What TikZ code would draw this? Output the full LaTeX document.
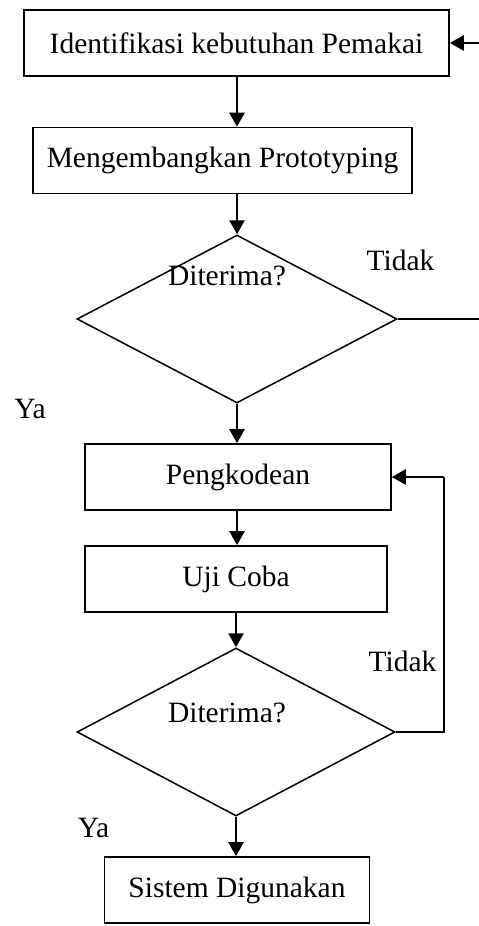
\documentclass[tikz,border=0pt]{standalone}
\usepackage{fontspec}
\setmainfont{Liberation Serif}
\usetikzlibrary{shapes.geometric,arrows.meta}

\begin{document}
\begin{tikzpicture}[ x=1pt, y=-1pt,
  box/.style={draw, line width=1.6pt, minimum height=66pt, inner sep=0pt},
  dec/.style={draw, diamond, line width=1.5pt, minimum width=320pt, minimum height=168pt, inner sep=0pt},
  arr/.style={line width=2.5pt, -{Triangle[length=14pt,width=15pt]}},
  font=\fontsize{29.5}{34}\selectfont ]

\useasboundingbox (0,0) rectangle (479,926);

%Steps
\node[box, minimum width=425pt] (B1) at (236.5,43)  {Identifikasi kebutuhan Pemakai};
\node[box, minimum width=379pt] (B2) at (222.5,160.5) {Mengembangkan Prototyping};
\node[dec] (D1) at (237,319) {};
\node[box, minimum width=306pt] (B3) at (238,477) {Pengkodean};
\node[box, minimum width=302pt] (B4) at (236,579) {Uji Coba};
\node[dec, minimum width=318pt] (D2) at (236,732) {};
\node[box, minimum width=265pt] (B5) at (237,890) {Sistem Digunakan};

% Labels
\node (T1) at (227,276) {Diterima?};
\node (T2) at (227,713) {Diterima?};
\node[anchor=base] (N1) at (400.5,270) {Tidak};
\node[anchor=base] (N2) at (402.5,671) {Tidak};
\node[anchor=base] (Y1) at (30,418) {Ya};
\node[anchor=base] (Y2) at (93.5,837) {Ya};

%Flow
\draw[arr] (B1.south -| D1.north) -- (B2.north -| D1.north);
\draw[arr] (B2.south -| D1.north) -- (D1.north);
\draw[arr] (D1.south) -- (B3.north -| D1.south);
\draw[arr] (B3.south -| D1.south) -- (B4.north -| D1.south);
\draw[arr] (B4.south -| D2.north) -- (D2.north);
\draw[arr] (D2.south) -- (B5.north -| D2.south);

%Loops
\coordinate (R1) at (482,0);
\coordinate (R2) at (444,0);
\draw[line width=2pt] (D1.east) -- (D1.east -| R1) -- (R1 |- B1.east);
\draw[arr] (R1 |- B1.east) -- (B1.east);
\draw[line width=2pt] (D2.east) -- (D2.east -| R2) -- (R2 |- B3.east);
\draw[arr] (R2 |- B3.east) -- (B3.east);

\end{tikzpicture}
\end{document}
